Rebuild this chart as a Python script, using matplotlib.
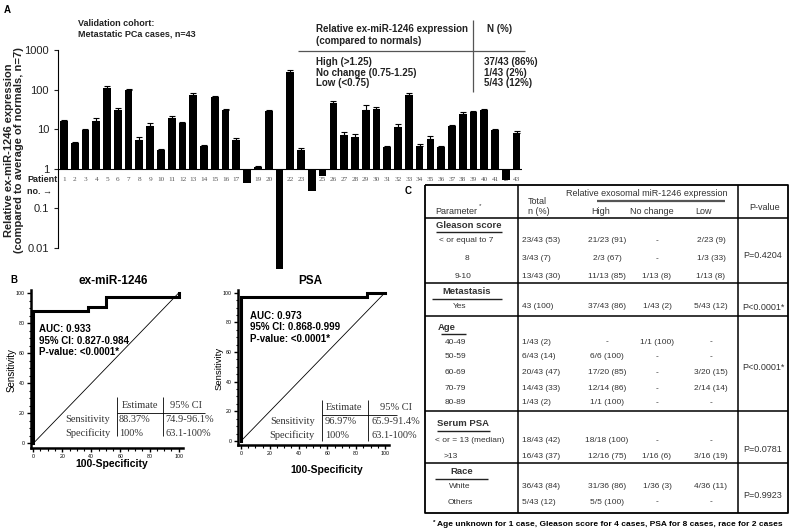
import numpy as np
import matplotlib.pyplot as plt
from matplotlib.ticker import FixedLocator, FixedFormatter, MultipleLocator

plt.rcParams['font.family'] = ['Liberation Sans', 'DejaVu Sans']

W, H = 800, 532

# ---- panel A data: relative ex-miR-1246 per patient
patients = np.arange(1, 44)
expr = [15.8, 4.5, 9.3, 15.8, 112, 31, 97, 5.2, 11.8, 2.9,
        19.5, 14.4, 75, 3.8, 64, 30, 5.4, 0.43, 1.12, 28,
        0.003, 280, 3.0, 0.27, 0.64, 46, 7.2, 6.3, 30, 32,
        3.5, 11.4, 72, 3.7, 5.7, 3.5, 12, 24.6, 26.7, 31,
        9.3, 0.53, 8.0]
expr_err = [1.5, 0.3, 0.6, 3.5, 10, 4, 6, 1, 2.5, 0.2,
            2.5, 1, 6, 0.3, 6, 2, 0.5, 0, 0.05, 3,
            0, 40, 0.3, 0, 0, 6, 1.2, 1.3, 12, 4,
            0.3, 2, 8, 0.5, 1.2, 0.3, 0.8, 2.5, 1.5, 2,
            1, 0, 1]
ytick_vals = [0.01, 0.1, 1, 10, 100, 1000]
ytick_labs = ['0.01', '0.1', '1', '10', '100', '1000']

summary_cats = ['High (>1.25)', 'No change (0.75-1.25)', 'Low (<0.75)']
summary_n = ['37/43 (86%)', '1/43 (2%)', '5/43 (12%)']

# ---- panel B data: ROC curves (100-specificity, sensitivity)
roc1_x = [0, 0, 37.5, 37.5, 50, 50, 100, 100]
roc1_y = [0, 88.37, 88.37, 90.70, 90.70, 97.67, 97.67, 100]
roc2_x = [0, 0, 87.5, 87.5, 100]
roc2_y = [0, 96.97, 96.97, 100, 100]
roc1_stats = ['AUC: 0.933', '95% CI: 0.827-0.984', 'P-value: <0.0001*']
roc2_stats = ['AUC: 0.973', '95% CI: 0.868-0.999', 'P-value: <0.0001*']
roc1_est = ['88.37%', '100%']
roc1_ci = ['74.9-96.1%', '63.1-100%']
roc2_est = ['96.97%', '100%']
roc2_ci = ['65.9-91.4%', '63.1-100%']

# ---- panel C data: clinical table
group_titles = ['Gleason score', 'Metastasis', 'Age', 'Serum PSA', 'Race']
group_pvals = ['P=0.4204', 'P<0.0001*', 'P<0.0001*', 'P=0.0781', 'P=0.9923']
row_labels = ['< or equal to 7', '8', '9-10', 'Yes', '40-49', '50-59', '60-69',
              '70-79', '80-89', '< or = 13 (median)', '>13', 'White', 'Others']
total_n = ['23/43 (53)', '3/43 (7)', '13/43 (30)', '43 (100)', '1/43 (2)',
           '6/43 (14)', '20/43 (47)', '14/43 (33)', '1/43 (2)', '18/43 (42)',
           '16/43 (37)', '36/43 (84)', '5/43 (12)']
high_n = ['21/23 (91)', '2/3 (67)', '11/13 (85)', '37/43 (86)', '-', '6/6 (100)',
          '17/20 (85)', '12/14 (86)', '1/1 (100)', '18/18 (100)', '12/16 (75)',
          '31/36 (86)', '5/5 (100)']
nochange_n = ['-', '-', '1/13 (8)', '1/43 (2)', '1/1 (100)', '-', '-', '-', '-',
              '-', '1/16 (6)', '1/36 (3)', '-']
low_n = ['2/23 (9)', '1/3 (33)', '1/13 (8)', '5/43 (12)', '-', '-', '3/20 (15)',
         '2/14 (14)', '-', '-', '3/16 (19)', '4/36 (11)', '-']


def box(x0, y0, x1, y1):
    return [x0 / W, 1 - y1 / H, (x1 - x0) / W, (y1 - y0) / H]


fig = plt.figure(figsize=(8, 5.32), dpi=100)

# ================= panel A
ax = fig.add_axes(box(58, 50, 522, 248))
ax.set_yscale('log')
ax.set_ylim(0.01, 1000)
ax.set_xlim(0.45, 43.5)
vals = np.array(expr)
ax.bar(patients, vals - 1, bottom=1, width=0.72, color='black', zorder=3,
       clip_on=False)
up = vals > 1
ax.errorbar(patients[up], vals[up],
            yerr=[np.zeros(up.sum()), np.array(expr_err)[up]],
            fmt='none', ecolor='black', elinewidth=0.8, capsize=2, capthick=0.8,
            zorder=3)
ax.axhline(1, color='black', lw=0.8, zorder=2)
for p in patients:
    ax.text(p, 0.53, str(p), ha='center', va='center', fontsize=5.2,
            family='Liberation Serif', color='#555555', zorder=1)
for s in ['top', 'right', 'bottom']:
    ax.spines[s].set_visible(False)
ax.spines['left'].set_linewidth(0.8)
ax.set_xticks([])
ax.yaxis.set_major_locator(FixedLocator(ytick_vals))
ax.yaxis.set_major_formatter(FixedFormatter(ytick_labs))
ax.yaxis.set_minor_locator(FixedLocator([]))
ax.tick_params(axis='y', labelsize=8, length=3, width=0.8, colors='#222222')
ax.patch.set_visible(False)

# ================= panel B
def roc_axes(rect, xl, yl, xs, ys):
    a = fig.add_axes(rect)
    a.plot([0, 100], [0, 100], color='black', lw=0.6)
    a.plot(xs, ys, color='black', lw=2.2, solid_joinstyle='miter', clip_on=False)
    a.set_xlim(*xl)
    a.set_ylim(*yl)
    for s in ['top', 'right']:
        a.spines[s].set_visible(False)
    for s in ['left', 'bottom']:
        a.spines[s].set_linewidth(1.8)
    a.set_xticks([0, 20, 40, 60, 80, 100])
    a.set_yticks([0, 20, 40, 60, 80, 100])
    a.xaxis.set_minor_locator(MultipleLocator(5))
    a.yaxis.set_minor_locator(MultipleLocator(5))
    a.tick_params(which='major', labelsize=3.8, length=3, width=1, pad=1.5)
    a.tick_params(which='minor', length=1.8, width=0.8)
    a.patch.set_visible(False)
    return a


roc_axes(box(31, 290, 183, 448), (-1.5, 103), (-3, 102), roc1_x, roc1_y)
roc_axes(box(238, 290, 389, 445), (-2.1, 102.8), (-2.7, 101.8), roc2_x, roc2_y)

# ================= overlay for text / tables (pixel coords)
ov = fig.add_axes([0, 0, 1, 1], zorder=10)
ov.set_xlim(0, W)
ov.set_ylim(H, 0)
ov.axis('off')


def t(x, y, s, **kw):
    kw.setdefault('va', 'center')
    kw.setdefault('ha', 'left')
    ov.text(x, y, s, **kw)


def ln(xs, ys, lw=1.0, color='black'):
    ov.plot(xs, ys, color=color, lw=lw, solid_capstyle='butt')


# panel A annotations
t(4, 10, 'A', fontsize=7, weight='bold')
t(14, 150, 'Relative ex-miR-1246 expression\n(compared to average of normals, n=7)',
  rotation=90, ha='center', fontsize=8, weight='bold', linespacing=1.1,
  color='#222222')
t(78, 23, 'Validation cohort:', fontsize=6.5, weight='bold', color='#222222')
t(78, 34, 'Metastatic PCa cases, n=43', fontsize=6.5, weight='bold', color='#222222')
t(27, 180, 'Patient', fontsize=6.5, weight='bold', color='#222222')
t(27, 191, 'no. \u2192', fontsize=6.5, weight='bold', color='#222222')
t(316, 29, 'Relative ex-miR-1246 expression', fontsize=7, weight='bold', color='#222222')
t(316, 41, '(compared to normals)', fontsize=7, weight='bold', color='#222222')
t(487, 29, 'N (%)', fontsize=7, weight='bold', color='#222222')
ln([473, 473], [20, 92], lw=0.9, color='#555555')
ln([298, 525], [51, 51], lw=0.9, color='#555555')
for i, (c, n) in enumerate(zip(summary_cats, summary_n)):
    t(316, 62 + 10.7 * i, c, fontsize=7, weight='bold', color='#222222')
    t(484, 62 + 10.7 * i, n, fontsize=7, weight='bold', color='#222222')

# panel B annotations
t(10, 280, 'B', fontsize=7, weight='bold')
t(113, 281, 'ex-miR-1246', ha='center', fontsize=8.5, weight='bold')
t(310, 281, 'PSA', ha='center', fontsize=8.5, weight='bold')
t(112, 464, '100-Specificity', ha='center', fontsize=7.5, weight='bold')
t(327, 470, '100-Specificity', ha='center', fontsize=7.5, weight='bold')
t(12, 370, 'Sensitivity', rotation=90, ha='center', fontsize=7)
t(219, 368, 'Sensitivity', rotation=90, ha='center', fontsize=6.8)
for i, s in enumerate(roc1_stats):
    t(39, 329 + 11.5 * i, s, fontsize=7, weight='bold')
for i, s in enumerate(roc2_stats):
    t(250, 316 + 11.5 * i, s, fontsize=7, weight='bold')

serif = dict(family='Liberation Serif', fontsize=7.5, color='#333333')
# ROC 1 table
ln([117, 117], [397, 436], lw=0.6)
ln([163, 163], [397, 436], lw=0.6)
ln([117, 205], [413, 413], lw=0.6)
t(122, 405, 'Estimate', **serif)
t(170, 405, '95% CI', **serif)
for i, lab in enumerate(['Sensitivity', 'Specificity']):
    y = 419 + 14 * i
    t(110, y, lab, ha='right', **serif)
    t(119, y, roc1_est[i], **serif)
    t(165, y, roc1_ci[i], **serif)
# ROC 2 table
ln([322, 322], [400, 441], lw=0.6)
ln([368, 368], [400, 441], lw=0.6)
ln([322, 397], [415, 415], lw=0.6)
t(326, 408, 'Estimate', **serif)
t(380, 408, '95% CI', **serif)
for i, lab in enumerate(['Sensitivity', 'Specificity']):
    y = 422 + 13.5 * i
    t(315, y, lab, ha='right', **serif)
    t(325, y, roc2_est[i], **serif)
    t(372, y, roc2_ci[i], **serif)

# ================= panel C table
t(405, 191, 'C', fontsize=7, weight='bold')
tc = '#333333'
fs = 6
# borders
ln([425, 788, 788, 425, 425], [185, 185, 513, 513, 185], lw=1.3)
ln([518, 518], [185, 513], lw=1.1)
ln([738, 738], [185, 513], lw=1.1)
for yy in [218, 283, 316, 411, 463]:
    ln([425, 788], [yy, yy], lw=1.1)

# header
t(435, 211, 'Parameter', fontsize=6.5, color=tc)
t(479, 206, '*', fontsize=4.5, color=tc)
t(528, 201, 'Total', fontsize=6.5, color=tc)
t(528, 212, 'n (%)', fontsize=6.5, color=tc)
t(647, 193, 'Relative exosomal miR-1246 expression', ha='center', fontsize=6.5, color=tc)
ln([597, 725], [201, 201], lw=1.6, color='#555555')
t(601, 212, 'High', ha='center', fontsize=6.5, color=tc)
t(652, 212, 'No change', ha='center', fontsize=6.5, color=tc)
t(704, 212, 'Low', ha='center', fontsize=6.5, color=tc)
t(765, 208, 'P-value', ha='center', fontsize=6.5, color=tc)

group_y = [225, 292, 327, 424, 472]
group_cx = [469, 467, 447, 463, 462]
group_ul = [(436, 502), (432, 502), (441, 466), (437, 490), (435, 488)]
pval_y = [255, 307, 368, 450, 495]
for g, title in enumerate(group_titles):
    t(group_cx[g], group_y[g], title, ha='center', fontsize=6.8, weight='bold', color=tc)
    ln(list(group_ul[g]), [group_y[g] + 6.5] * 2, lw=1.0, color='#222222')
    t(763, pval_y[g], group_pvals[g], ha='center', fontsize=6.5, color=tc)

row_y = [241, 259, 276, 307, 342, 357, 373, 389, 403, 441, 457, 487, 502]
row_x = [439, 465, 455, 453, 445, 445, 445, 445, 445, 435, 444, 449, 448]
for i, lab in enumerate(row_labels):
    y = row_y[i]
    t(row_x[i], y, lab, fontsize=fs, color=tc)
    t(522, y, total_n[i], fontsize=fs, color=tc)
    t(607, y, high_n[i], ha='center', fontsize=fs, color=tc)
    t(657, y, nochange_n[i], ha='center', fontsize=fs, color=tc)
    t(711, y, low_n[i], ha='center', fontsize=fs, color=tc)

t(433, 522, '*', fontsize=4.5, weight='bold')
t(437, 524, 'Age unknown for 1 case, Gleason score for 4 cases, PSA for 8 cases, race for 2 cases',
  fontsize=6, weight='bold')

fig.savefig('out.png', dpi=100)
